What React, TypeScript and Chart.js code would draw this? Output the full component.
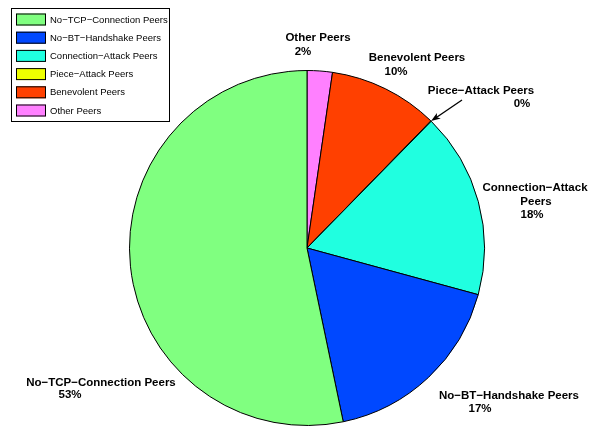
import React, { useEffect, useRef } from "react";
import { Chart, registerables } from "chart.js";

Chart.register(...registerables);

// Legend order (as in the original figure)
const categories = [
  "No\u2212TCP\u2212Connection Peers",
  "No\u2212BT\u2212Handshake Peers",
  "Connection\u2212Attack Peers",
  "Piece\u2212Attack Peers",
  "Benevolent Peers",
  "Other Peers",
];
// Slice sizes (percent)
const shares = [53.3, 17.5, 16.9, 0.05, 10.0, 2.3];
// Printed percentage labels
const percentLabels = ["53%", "17%", "18%", "0%", "10%", "2%"];
const colors = ["#80FF80", "#0048FF", "#20FFE0", "#EEFF00", "#FF4000", "#FF80FF"];

// Label text lines (name lines + percent) and their placement
const nameLines = [
  ["No\u2212TCP\u2212Connection Peers"],
  ["No\u2212BT\u2212Handshake Peers"],
  ["Connection\u2212Attack", "Peers"],
  ["Piece\u2212Attack Peers"],
  ["Benevolent Peers"],
  ["Other Peers"],
];
const labelPos: [number, number][][] = [
  [[101, 383], [70, 395]],
  [[509, 396], [480, 409]],
  [[535, 188], [536, 202], [532, 215]],
  [[481, 91], [522, 104]],
  [[417, 58], [396, 72]],
  [[318, 38], [303, 52]],
];
const arrowTail: [number, number] = [462, 100];

const FONT = "'Liberation Sans', Arial, Helvetica, sans-serif";

const overlayPlugin = {
  id: "overlay",
  afterDraw(chart: any) {
    const ctx = chart.ctx;
    ctx.save();
    // pie labels
    ctx.fillStyle = "#000";
    ctx.font = `bold 11.5px ${FONT}`;
    ctx.textAlign = "center";
    ctx.textBaseline = "middle";
    for (let i = 0; i < categories.length; i++) {
      const lines = [...nameLines[i], percentLabels[i]];
      lines.forEach((t, j) => {
        const p = labelPos[i][j];
        ctx.fillText(t, p[0], p[1]);
      });
    }
    // arrow to Piece-Attack slice
    const meta = chart.getDatasetMeta(0);
    const n = categories.length;
    const pieceIdx = n - 1 - 3;
    const arc = meta.data[pieceIdx];
    const ang = (arc.startAngle + arc.endAngle) / 2;
    const hx = arc.x + Math.cos(ang) * arc.outerRadius;
    const hy = arc.y + Math.sin(ang) * arc.outerRadius;
    const [tx, ty] = arrowTail;
    const a = Math.atan2(hy - ty, hx - tx);
    ctx.strokeStyle = "#000";
    ctx.lineWidth = 1.3;
    ctx.beginPath();
    ctx.moveTo(tx, ty);
    ctx.lineTo(hx - Math.cos(a) * 5, hy - Math.sin(a) * 5);
    ctx.stroke();
    ctx.beginPath();
    ctx.moveTo(hx, hy);
    ctx.lineTo(hx - Math.cos(a - 0.35) * 10, hy - Math.sin(a - 0.35) * 10);
    ctx.lineTo(hx - Math.cos(a) * 7, hy - Math.sin(a) * 7);
    ctx.lineTo(hx - Math.cos(a + 0.35) * 10, hy - Math.sin(a + 0.35) * 10);
    ctx.closePath();
    ctx.fillStyle = "#000";
    ctx.fill();

    // legend box
    const bx = 11, by = 8, bw = 158, bh = 113;
    ctx.fillStyle = "#fff";
    ctx.fillRect(bx, by, bw, bh);
    ctx.lineWidth = 1;
    ctx.strokeStyle = "#000";
    ctx.strokeRect(bx + 0.5, by + 0.5, bw, bh);
    ctx.font = `9.5px ${FONT}`;
    ctx.textAlign = "left";
    ctx.textBaseline = "middle";
    for (let i = 0; i < categories.length; i++) {
      const y = 13.5 + i * 18.2;
      ctx.fillStyle = colors[i];
      ctx.fillRect(16, y, 30, 12);
      ctx.strokeStyle = "#000";
      ctx.strokeRect(16.5, y + 0.5, 29, 11);
      ctx.fillStyle = "#000";
      ctx.fillText(categories[i], 50, y + 6.5);
    }
    ctx.restore();
  },
};

export default function App() {
  const ref = useRef<HTMLCanvasElement>(null);
  useEffect(() => {
    if (!ref.current) return;
    const rev = <T,>(arr: T[]) => arr.slice().reverse();
    const chart = new Chart(ref.current, {
      type: "pie",
      data: {
        labels: rev(categories),
        datasets: [
          {
            data: rev(shares),
            backgroundColor: rev(colors),
            borderColor: "#000",
            borderWidth: 1,
          },
        ],
      },
      options: {
        responsive: false,
        animation: false,
        layout: { padding: { left: 127, right: 102, top: 70, bottom: -4 } },
        plugins: {
          legend: { display: false },
          tooltip: { enabled: false },
        },
      },
      plugins: [overlayPlugin],
    });
    return () => chart.destroy();
  }, []);
  return (
    <div style={{ position: "absolute", left: 0, top: 0, width: 589, height: 426, background: "#fff", overflow: "hidden" }}>
      <canvas ref={ref} width={589} height={426} style={{ display: "block" }} />
    </div>
  );
}
